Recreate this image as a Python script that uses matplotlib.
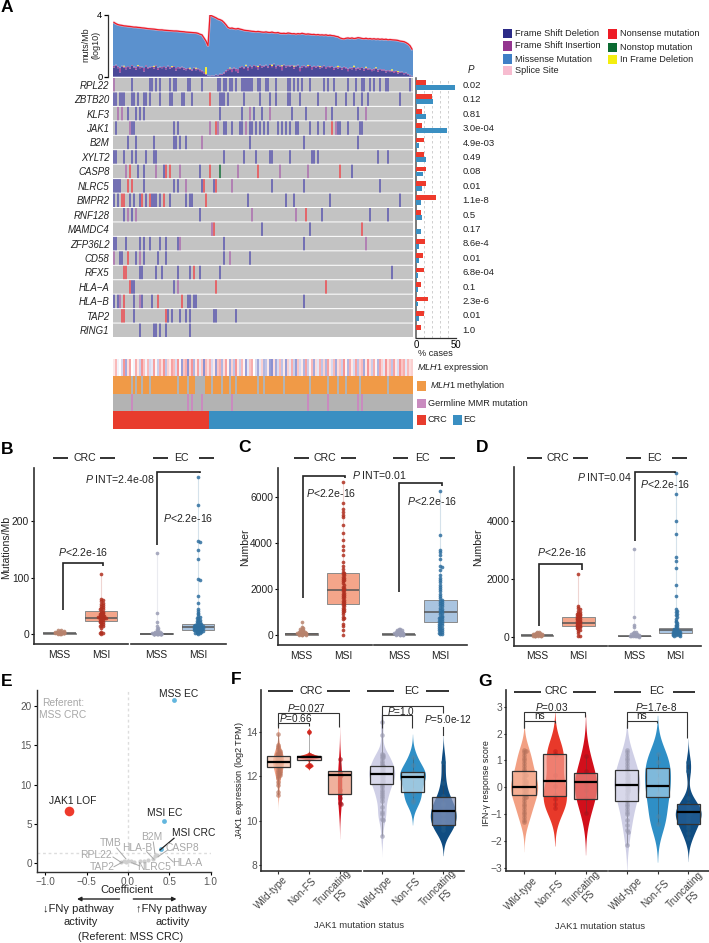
import numpy as np
import matplotlib
matplotlib.use("Agg")
import matplotlib.pyplot as plt
from matplotlib.colors import LinearSegmentedColormap

plt.rcParams['font.family'] = ['Liberation Sans', 'DejaVu Sans']
plt.rcParams['mathtext.fontset'] = 'custom'
plt.rcParams['mathtext.rm'] = 'Liberation Sans'
plt.rcParams['mathtext.it'] = 'Liberation Sans:italic'
plt.rcParams['axes.unicode_minus'] = True

W, H = 709, 943

# panel A data
genes = ['RPL22', 'ZBTB20', 'KLF3', 'JAK1', 'B2M', 'XYLT2', 'CASP8', 'NLRC5', 'BMPR2',
         'RNF128', 'MAMDC4', 'ZFP36L2', 'CD58', 'RFX5', 'HLA\u2212A', 'HLA\u2212B', 'TAP2', 'RING1']
gene_p = ['0.02', '0.12', '0.81', '3.0e-04', '4.9e-03', '0.49', '0.08', '0.01', '1.1e-8',
          '0.5', '0.17', '8.6e-4', '0.01', '6.8e-04', '0.1', '2.3e-6', '0.01', '1.0']
pct_crc = [12.5, 20, 7, 7, 10, 10, 12, 12.5, 25, 6, 0, 11, 9, 10, 6, 14.5, 9.5, 6]
pct_ec = [49, 21, 13, 39, 4, 13, 9, 7, 6, 7, 6, 4, 4, 2.5, 3, 2, 4, 0]

# sample index per gene and mutation class
fs_del = {
    'RPL22': [9, 18, 19, 21, 23, 28, 30, 31, 37, 38, 44, 52, 53, 55, 56, 58, 59, 61, 64, 65, 66, 67, 68, 69, 72, 73, 76, 77,
              81, 87, 88, 90, 92, 94, 98, 105, 107, 110, 117, 121, 124, 125, 128, 130, 133, 136, 137, 148],
    'ZBTB20': [0, 1, 3, 4, 5, 9, 10, 12, 15, 16, 18, 23, 28, 29, 34, 35, 39, 53, 54, 55, 57, 65, 73, 78, 81, 87, 88, 93,
               102, 111, 116, 120, 124, 127, 143],
    'KLF3': [7, 11, 13, 15, 53, 64, 70, 74, 89, 96, 109, 122],
    'JAK1': [1, 9, 10, 30, 32, 55, 56, 59, 63, 64, 68, 69, 71, 73, 75, 77, 82, 84, 86, 88, 91, 92, 98, 102, 105, 112, 113, 117, 123, 124],
    'B2M': [7, 11, 20, 30, 31, 33, 36, 68, 95, 122],
    'XYLT2': [0, 1, 5, 9, 11, 16, 20, 21, 55, 65, 71, 78, 79, 88, 99, 100, 102, 132, 137],
    'CASP8': [12, 15, 25, 43, 119],
    'NLRC5': [0, 1, 2, 3, 15, 30, 32, 44, 50, 79, 95, 133],
    'BMPR2': [0, 2, 8, 10, 13, 16, 19, 20, 21, 23, 28, 36, 38, 39, 67, 86, 90, 108, 143],
    'RNF128': [5, 9, 43, 104, 128, 137],
    'MAMDC4': [74, 98],
    'ZFP36L2': [0, 1, 6, 13, 15, 18, 23, 26, 32, 55, 95],
    'CD58': [3, 4, 11, 15, 22, 26, 55, 68],
    'RFX5': [13, 14, 21, 24, 32, 38, 43, 53, 139],
    'HLA\u2212A': [9, 10, 30],
    'HLA\u2212B': [0, 2, 10, 14, 19, 37, 38, 40, 41, 95],
    'TAP2': [10, 27, 29, 33, 36, 38, 50, 51, 61],
    'RING1': [13, 20, 21, 23, 26, 38],
}
fs_ins = {
    'RPL22': [0], 'KLF3': [2, 4, 68, 78, 106, 126], 'JAK1': [8, 48, 52, 66, 111], 'B2M': [44],
    'CASP8': [6, 21, 33, 62, 83, 97], 'NLRC5': [36, 59], 'RNF128': [7, 11, 69, 91], 'MAMDC4': [49],
    'ZFP36L2': [33, 126], 'CD58': [0, 13, 58], 'HLA\u2212A': [32], 'HLA\u2212B': [3, 13],
}
nonsense = {
    'ZBTB20': [48], 'JAK1': [51, 109], 'CASP8': [8, 26, 28, 48, 72, 113], 'NLRC5': [7, 9, 45, 51],
    'BMPR2': [4, 5, 14, 18, 25, 46], 'RNF128': [96], 'MAMDC4': [50, 124], 'CD58': [7],
    'RFX5': [5, 6, 40], 'HLA\u2212A': [8, 51, 106], 'HLA\u2212B': [5, 22, 34], 'TAP2': [4, 5, 26],
}
nonstop = {'CASP8': [53]}

tmb = [3.50, 3.42, 3.36, 3.33, 3.31, 3.28, 3.27, 3.25, 3.24, 3.22,
       3.20, 3.20, 3.18, 3.17, 3.15, 3.14, 3.12, 3.10, 3.09, 3.08,
       3.07, 3.05, 3.03, 3.02, 3.02, 3.00, 2.99, 2.98, 2.97, 2.96,
       2.95, 2.95, 2.94, 2.92, 2.91, 2.90, 2.88, 2.87, 2.86, 2.85,
       2.84, 2.83, 2.80, 2.74, 2.70, 2.50, 2.30, 2.00,
       3.98, 3.92, 3.86, 3.80, 3.72, 3.68, 3.62, 3.50, 3.35, 3.18,
       3.12, 3.14, 3.10, 3.08, 3.11, 3.07, 3.04, 3.00, 2.98, 2.97,
       2.95, 2.93, 2.92, 2.90, 2.92, 2.90, 2.88, 2.87, 2.89, 2.86,
       2.85, 2.88, 2.84, 2.83, 2.85, 2.80, 2.79, 2.80, 2.78, 2.82,
       2.80, 2.77, 2.78, 2.75, 2.78, 2.76, 2.80, 2.77, 2.74, 2.76,
       2.74, 2.72, 2.73, 2.70, 2.72, 2.69, 2.70, 2.68, 2.70, 2.66,
       2.68, 2.65, 2.64, 2.60, 2.58, 2.50, 2.46, 2.44, 2.48, 2.50,
       2.47, 2.50, 2.46, 2.48, 2.52, 2.50, 2.47, 2.45, 2.48, 2.44,
       2.46, 2.43, 2.45, 2.42, 2.44, 2.41, 2.43, 2.40, 2.42, 2.38,
       2.40, 2.38, 2.37, 2.36, 2.34, 2.30, 2.28, 2.26, 2.20, 2.12,
       2.00, 1.78]
tmb_del = [0.60, 0.72, 0.55, 0.28, 0.66, 0.58, 0.48, 0.62, 0.52, 0.70,
           0.58, 0.45, 0.64, 0.55, 0.60, 0.34, 0.66, 0.50, 0.58, 0.62,
           0.52, 0.68, 0.44, 0.60, 0.55, 0.62, 0.48, 0.66, 0.52, 0.58,
           0.64, 0.40, 0.55, 0.50, 0.60, 0.46, 0.42, 0.50, 0.44, 0.38,
           0.55, 0.42, 0.48, 0.36, 0.30, 0.22, 0.12, 0.05,
           0.04, 0.06, 0.05, 0.10, 0.08, 0.14, 0.12, 0.20, 0.30, 0.42,
           0.48, 0.30, 0.52, 0.36, 0.25, 0.58, 0.62, 0.50, 0.66, 0.42,
           0.68, 0.55, 0.70, 0.62, 0.48, 0.74, 0.60, 0.66, 0.72, 0.58,
           0.76, 0.62, 0.80, 0.55, 0.70, 0.66, 0.42, 0.74, 0.60, 0.68,
           0.64, 0.70, 0.52, 0.66, 0.72, 0.36, 0.60, 0.68, 0.56, 0.62,
           0.70, 0.48, 0.64, 0.58, 0.66, 0.54, 0.60, 0.68, 0.50, 0.62,
           0.56, 0.64, 0.44, 0.58, 0.52, 0.60, 0.46, 0.56, 0.50, 0.36,
           0.54, 0.48, 0.58, 0.42, 0.52, 0.46, 0.56, 0.38, 0.50, 0.44,
           0.48, 0.36, 0.42, 0.50, 0.32, 0.44, 0.38, 0.40, 0.28, 0.36,
           0.30, 0.34, 0.24, 0.30, 0.20, 0.26, 0.28, 0.16, 0.22, 0.12,
           0.08, 0.04]
tmb_ins = [0.10, 0.06, 0.12, 0.30, 0.05, 0.08, 0.14, 0.06, 0.10, 0.05,
           0.08, 0.16, 0.06, 0.10, 0.05, 0.22, 0.08, 0.10, 0.06, 0.05,
           0.12, 0.06, 0.14, 0.05, 0.08, 0.06, 0.12, 0.05, 0.10, 0.06,
           0.05, 0.16, 0.08, 0.10, 0.05, 0.12, 0.10, 0.06, 0.08, 0.10,
           0.05, 0.10, 0.06, 0.12, 0.10, 0.08, 0.05, 0.03,
           0.02, 0.03, 0.02, 0.04, 0.03, 0.05, 0.06, 0.08, 0.10, 0.08,
           0.06, 0.22, 0.08, 0.16, 0.24, 0.05, 0.06, 0.10, 0.05, 0.18,
           0.06, 0.10, 0.05, 0.08, 0.16, 0.05, 0.10, 0.06, 0.05, 0.10,
           0.05, 0.08, 0.04, 0.12, 0.06, 0.08, 0.26, 0.05, 0.10, 0.06,
           0.08, 0.05, 0.14, 0.06, 0.05, 0.24, 0.10, 0.05, 0.10, 0.08,
           0.05, 0.16, 0.06, 0.10, 0.05, 0.10, 0.08, 0.05, 0.12, 0.06,
           0.10, 0.05, 0.14, 0.06, 0.10, 0.05, 0.12, 0.08, 0.10, 0.16,
           0.06, 0.10, 0.05, 0.12, 0.08, 0.10, 0.05, 0.14, 0.08, 0.10,
           0.06, 0.12, 0.10, 0.05, 0.14, 0.06, 0.10, 0.08, 0.12, 0.06,
           0.10, 0.06, 0.12, 0.08, 0.10, 0.06, 0.05, 0.08, 0.05, 0.06,
           0.04, 0.02]
inframe_idx = [5, 12, 20, 29, 38, 41, 46, 58, 66, 72, 79, 84, 90, 97, 103, 112, 120, 126, 131, 139, 142]
inframe_h = [0.05, 0.05, 0.06, 0.05, 0.06, 0.06, 0.45, 0.05, 0.06, 0.06, 0.08, 0.06, 0.05, 0.06, 0.05, 0.08, 0.08, 0.06, 0.06, 0.08, 0.06]

mlh1_expr = [0.2, 0.6, -0.1, 0.0, -0.3, 0.9, -0.7, 0.3, 0.8, 0.0,
             -0.1, 0.7, 0.2, -0.4, 0.9, 0.5, -0.1, 0.6, -0.3, -0.2,
             0.8, 0.1, -0.4, 0.7, 0.3, 0.9, -0.5, 0.4, 0.2, 0.8,
             0.6, -0.3, 0.9, 0.1, -0.8, 0.5, 0.7, -0.9, 0.4, 0.9,
             -0.6, 0.2, 0.8, -0.2, 0.5, -0.9, 0.6, 0.3, 0.7, -0.3,
             0.2, -0.8, 0.5, 0.7, -0.6, 0.3, 0.8, 0.1, -0.7, 0.4,
             -0.5, 0.9, 0.2, -0.4, 0.6, 0.1, -0.8, -0.2, 0.5, 0.7,
             0.0, -0.3, -0.7, -0.2, 0.4, -0.6, -0.5, 0.2, -0.8, -0.9,
             0.3, -0.7, -0.3, 0.6, -0.5, 0.2, -0.8, 0.4, -0.2, 0.7,
             -0.4, -0.8, 0.5, -0.3, 0.2, -0.6, 0.8, -0.4, 0.1, 0.6,
             -0.7, 0.3, -0.2, 0.7, -0.5, 0.4, -0.6, 0.8, 0.2, -0.3,
             0.6, -0.7, 0.3, 0.5, -0.4, 0.9, 0.1, -0.6, 0.7, 0.2,
             -0.3, 0.8, -0.5, 0.4, 0.6, -0.7, 0.2, 0.9, 0.3, -0.4,
             0.7, 0.1, -0.6, 0.8, 0.4, -0.2, 0.9, 0.3, 0.6, -0.5,
             0.8, 0.2, -0.3, 0.9, 0.5, 0.7, -0.2, 0.6, 0.3, 0.4]
unmethylated = [9, 11, 14, 18, 32, 37, 41, 42, 43, 44, 45, 49, 54, 58, 61, 72, 75, 85, 98, 107, 112, 116, 123, 137]
germline = [9, 37, 39, 44, 59, 97, 107, 122, 124]
n_crc = 48

# panels B C D: group order CRC MSS, CRC MSI, EC MSS, EC MSI
b_vals = [
    [0.5, 1, 1, 1.5, 1.5, 2, 2, 2, 2.5, 2.5, 3, 3, 3, 3.5, 3.5, 4, 4, 4.5, 5, 5, 6, 6, 7, 8],
    [106, 62, 60, 58, 56, 54, 52, 50, 48, 46, 45, 44, 42, 40, 38, 37, 36, 35, 34, 33, 32, 32, 31, 30, 30, 29, 29, 28, 28, 27,
     26, 25, 24, 23, 22, 21, 20, 18, 16, 15, 14, 12, 4, 3, 2, 1],
    [144, 37, 22, 14, 12, 9, 7, 6, 5, 4, 4, 3, 3, 3, 2, 2, 2, 2, 1, 1, 1, 1, 1, 1, 1, 0.5, 0.5, 0.5, 0.5, 0.5, 0.2, 0.2],
    [278, 228, 165, 163, 149, 132, 97, 95, 67, 56, 45, 42, 38, 35, 32, 30, 29, 28, 26, 25, 24, 22, 21, 20, 19, 18, 18, 17, 16, 16,
     15, 15, 14, 14, 14, 13, 13, 13, 12, 12, 12, 11, 11, 11, 10, 10, 10, 9, 9, 8, 8, 8, 7, 7, 6, 6, 5, 5, 4, 3, 3, 2, 1],
]
b_box = [(1, 2, 3), (24, 29, 41), (0, 1, 2), (8, 13, 18)]
c_vals = [
    [560, 350, 300, 280, 250, 230, 200, 180, 160, 150, 130, 120, 110, 100, 90, 80, 70, 60, 50, 40, 40, 30, 30, 20, 20, 10, 10],
    [6680, 5750, 5500, 5350, 5250, 5150, 4800, 4450, 4150, 3900, 3700, 3500, 3200, 3000, 2900, 2750, 2700, 2650, 2600, 2550,
     2500, 2450, 2400, 2350, 2250, 2200, 2100, 2050, 2000, 1950, 1900, 1850, 1800, 1750, 1700, 1650, 1600, 1550, 1500, 1450,
     1400, 1350, 1300, 1250, 1200, 1150, 1100, 1050, 1000, 900, 800, 750, 700, 500, 400, 200, 0],
    [280, 260, 240, 220, 200, 180, 160, 150, 130, 120, 110, 100, 90, 80, 70, 60, 50, 40, 30, 30, 20, 20, 10, 10, 5],
    [6280, 4370, 3700, 3620, 3500, 3300, 3000, 2950, 2850, 2600, 2500, 2400, 2300, 2200, 2100, 2000, 1900, 1800, 1700, 1600,
     1550, 1500, 1450, 1400, 1350, 1300, 1250, 1200, 1150, 1100, 1050, 1000, 950, 900, 850, 800, 780, 750, 720, 700,
     650, 620, 600, 560, 520, 500, 460, 420, 400, 360, 320, 300, 260, 220, 200, 160, 120, 100, 60, 30],
]
c_box = [(10, 40, 70), (1350, 1980, 2700), (10, 30, 60), (560, 1000, 1540)]
d_vals = [
    [180, 160, 140, 130, 120, 110, 100, 90, 80, 80, 70, 70, 60, 60, 50, 50, 40, 40, 30, 30, 20, 20, 10],
    [2180, 1080, 1000, 950, 900, 860, 820, 800, 780, 760, 740, 720, 700, 680, 660, 640, 620, 600, 580, 560,
     540, 520, 500, 480, 460, 440, 420, 400, 380, 360, 340, 320, 300, 280, 250, 200, 120, 30, 20],
    [3060, 700, 400, 330, 180, 150, 130, 110, 100, 90, 80, 70, 60, 50, 40, 30, 30, 20, 20, 10, 10, 5],
    [5680, 4950, 4030, 3570, 2780, 2620, 2400, 1800, 1400, 950, 900, 850, 800, 750, 700, 620, 560, 500, 460, 420, 390, 360, 330,
     300, 280, 260, 240, 220, 200, 190, 180, 170, 160, 150, 140, 130, 120, 110, 100, 90, 80, 70, 60, 50, 40, 30],
]
d_box = [(30, 45, 60), (370, 480, 680), (10, 20, 35), (130, 220, 310)]

# panel E
e_blue_x = [0.56, 0.44, 0.40]
e_blue_y = [20.7, 5.4, 1.8]
e_red_x = [-0.72]
e_red_y = [6.6]
e_grey_x = [-0.08, -0.05, -0.03, 0.0, 0.03, 0.07, 0.14, 0.19, 0.24, 0.30, 0.33, 0.35]
e_grey_y = [0.2, 0.3, 0.1, 0.35, 0.25, 0.15, 0.25, 0.3, 0.45, 0.6, 0.95, 1.0]

# panels F G: group order CRC WT, Non-FS, Trunc, EC WT, Non-FS, Trunc
f_vals = [
    [13.9, 13.4, 13.3, 13.2, 13.15, 13.1, 13.05, 13, 13, 12.95, 12.9, 12.85, 12.8, 12.8, 12.75, 12.7, 12.7, 12.65, 12.65, 12.6,
     12.6, 12.55, 12.5, 12.5, 12.45, 12.4, 12.35, 12.3, 12.25, 12.2, 12.15, 12.1, 12.05, 12, 11.9, 11.75, 11.6, 11.3, 11.15],
    [14.0, 12.45, 12.5, 12.8, 12.85, 12.85, 12.9, 12.9, 12.95],
    [12.75, 12.2, 12.1, 12.05, 12, 11.4, 11.2, 11.0, 10.8, 10.75],
    [14.45, 13.85, 13.0, 12.95, 12.9, 12.85, 12.8, 12.7, 12.6, 12.5, 12.45, 12.4, 12.35, 12.3, 12.25, 12.2, 12.15, 12.1, 12.05, 12,
     11.95, 11.9, 11.85, 11.8, 11.75, 11.7, 11.6, 11.5, 11.4, 11.3, 11.2, 11.1, 11, 10.9, 10.6, 10.4, 10.3, 10.1, 10.05, 9.3],
    [12.85, 12.5, 12.2, 12.1, 12.0, 11.95, 11.9, 11.4, 11.2, 10.95, 10.85],
    [12.65, 11.7, 11.1, 10.8, 10.7, 10.5, 10.4, 10.3, 10.1, 9.9, 9.8, 9.7, 9.6],
]
f_box = [(12.42, 12.65, 12.92), (12.72, 12.85, 12.92), (11.2, 12.05, 12.22),
         (11.65, 12.08, 12.47), (11.3, 11.98, 12.2), (9.82, 10.45, 11.05)]
f_bw = [0.25, 0.07, 0.6, 0.35, 0.4, 0.45]
f_half = [0.18, 0.36, 0.07, 0.42, 0.42, 0.42]
g_vals = [
    [1.4, 1.35, 1.3, 1.2, 1.1, 1, 0.9, 0.8, 0.7, 0.6, 0.5, 0.45, 0.4, 0.3, 0.25, 0.2, 0.15, 0.1, 0.05, 0, 0, -0.05, -0.1, -0.15,
     -0.2, -0.25, -0.3, -0.35, -0.4, -0.5, -0.6, -0.7, -0.8, -0.9, -1, -1.1, -1.2, -1.3],
    [1.35, 1.25, 1.2, 0.45, 0.05, -0.3, -0.45, -0.6, -0.75],
    [1.15, 0.6, 0.2, 0.1, -0.1, -0.4, -0.95],
    [1.4, 1.3, 1.2, 1.1, 1, 0.9, 0.8, 0.7, 0.6, 0.5, 0.45, 0.4, 0.35, 0.3, 0.25, 0.2, 0.15, 0.1, 0.05, 0, -0.05, -0.1, -0.15, -0.2,
     -0.3, -0.4, -0.5, -0.6, -0.7, -0.8, -0.9, -1, -1.2, -1.4, -1.6, -1.65, -2.15],
    [1.25, 0.95, 0.6, 0.3, -0.2, -0.3, -1.05, -1.35],
    [0.95, 0.6, -0.4, -0.6, -0.7, -0.8, -0.85, -0.9, -0.95, -1, -1.1, -1.2, -1.3, -1.4, -1.5, -1.7, -1.9],
]
g_box = [(-0.3, 0, 0.6), (-0.33, 0.25, 1.23), (-0.42, 0.2, 0.55), (-0.5, 0.1, 0.66), (-0.37, 0.05, 0.72), (-1.35, -0.93, -0.63)]
g_bw = [0.42, 0.55, 0.6, 0.5, 0.55, 0.33]
g_half = [0.44, 0.38, 0.36, 0.42, 0.42, 0.42]

viol_col = ['#f2a083', '#e8392a', '#d20f1b', '#cfcfe6', '#2f8fc6', '#0f4c81']
fbox_col = ['#f7c3aa', '#f2a9a0', '#eb9378', '#dcdcec', '#c4dcea', '#8896bd']
gbox_col = ['#f7b49a', '#f29a8c', '#ea8a80', '#dcdcec', '#9fcae4', '#245f96']
pt_col = ['#b8735c', '#c8201c', '#a8141c', '#9a9ab0', '#4d88ad', '#1e5a8a']
swarm_col = ['#b8836d', '#b03020', '#9a9db5', '#2f6f9f']
bbox_col = ['#c9a08f', '#f4a58a', '#a0a3b8', '#a9c4e0']
DARK = '#303030'
GREY = '#8c8c8c'
LAB = '#a8a8a8'


def add(x0, y0, x1, y1):
    return fig.add_axes([x0 / W, 1 - y1 / H, (x1 - x0) / W, (y1 - y0) / H])


def swarm(vals, center, px_y, px_x, step=1.5, limit=5):
    placed = []
    xs = []
    for v in vals:
        y = v * px_y
        # no free slot: spread over the column width
        off = (len(placed) * 3.3) % (2 * limit) - limit
        for k in range(40):
            o = ((k + 1) // 2) * step * (1 if k % 2 else -1)
            if abs(o) > limit:
                break
            if all((o - a) ** 2 + (y - b) ** 2 >= step ** 2 for a, b in placed):
                off = o
                break
        placed.append((off, y))
        xs.append(center + off / px_x)
    return xs


def clean(ax, left=True):
    for s in ['top', 'right']:
        ax.spines[s].set_visible(False)
    ax.spines['left'].set_visible(left)
    for s in ['left', 'bottom']:
        ax.spines[s].set_linewidth(1.2)
        ax.spines[s].set_color(DARK)
    ax.patch.set_alpha(0)


def bracket(xl, yl, xr, yr, ytop, lw=1.2, c='#222222'):
    ov.plot([xl, xl, xr, xr], [yl, ytop, ytop, yr], color=c, lw=lw, solid_capstyle='butt', solid_joinstyle='miter')


def header(segs, y):
    for a, b in segs:
        ov.plot([a, b], [y, y], color='#222222', lw=1.3, solid_capstyle='butt')


def tmb_panel(x_facets, y0, y1, xlos, vals, boxes, ylim, yticks, ylabel, ylab_x):
    axl = add(x_facets[0], y0, x_facets[1], y1)
    axr = add(x_facets[2], y0, x_facets[3], y1)
    for j, ax in enumerate([axl, axr]):
        clean(ax, left=(j == 0))
        ax.set_xlim(xlos[j], xlos[j] + (x_facets[2 * j + 1] - x_facets[2 * j]) / 41.4)
        ax.set_ylim(*ylim)
        px_y = (y1 - y0) / (ylim[1] - ylim[0])
        for k in range(2):
            g = 2 * j + k
            pos = k + 1
            q1, med, q3 = boxes[g]
            ax.vlines(pos, min(vals[g]), max(vals[g]), color=swarm_col[g], lw=0.8, alpha=0.2, zorder=1)
            ax.bar(pos, q3 - q1, 0.79, bottom=q1, color=bbox_col[g], edgecolor='#8a8a8a', lw=0.7, zorder=2)
            ax.hlines(med, pos - 0.395, pos + 0.395, color='#555555', lw=1.1, zorder=3)
            ax.scatter(swarm(vals[g], pos, px_y, 41.4), vals[g], s=7, color=swarm_col[g], alpha=0.85, lw=0, zorder=4)
        ax.set_xticks([1, 2], ['MSS', 'MSI'])
        ax.tick_params(axis='x', length=0, labelsize=7.4, pad=4, labelcolor='#222222')
    axl.set_yticks(yticks)
    axl.tick_params(axis='y', length=2, width=0.8, labelsize=7.4, pad=1.5, labelcolor='#222222')
    axr.set_yticks([])
    ov.text(ylab_x, 547, ylabel, rotation=90, ha='center', va='center', fontsize=7.6, color='#222222')


def kde(vals, grid, bw):
    d = (grid[:, None] - np.array(vals)[None, :]) / bw
    return np.exp(-0.5 * d ** 2).sum(axis=1)


def violin_panel(x_facets, y0, y1, xlos, vals, boxes, bws, halves, box_col, ylim, yticks):
    axl = add(x_facets[0], y0, x_facets[1], y1)
    axr = add(x_facets[2], y0, x_facets[3], y1)
    for j, ax in enumerate([axl, axr]):
        clean(ax, left=(j == 0))
        ax.set_xlim(xlos[j], xlos[j] + (x_facets[2 * j + 1] - x_facets[2 * j]) / 30.7)
        ax.set_ylim(*ylim)
        px_y = (y1 - y0) / (ylim[1] - ylim[0])
        for k in range(3):
            g = 3 * j + k
            v = vals[g]
            q1, med, q3 = boxes[g]
            grid = np.linspace(min(v) - 2.6 * bws[g], max(v) + 2.6 * bws[g], 200)
            dens = kde(v, grid, bws[g])
            dens = dens / dens.max() * halves[g]
            ax.fill_betweenx(grid, k - dens, k + dens, color=viol_col[g], lw=0, zorder=1)
            ax.vlines(k, min(v), max(v), color='#444444', lw=0.5, alpha=0.6, zorder=2)
            ax.scatter(swarm(v, k, px_y, 30.7, step=1.5, limit=3), v, s=11, color=pt_col[g], alpha=0.65, lw=0, zorder=3)
            ax.bar(k, q3 - q1, 0.76, bottom=q1, color=box_col[g], alpha=0.72, edgecolor='none', zorder=4)
            ax.bar(k, q3 - q1, 0.76, bottom=q1, fill=False, edgecolor='#333333', lw=0.9, zorder=5)
            ax.hlines(med, k - 0.38, k + 0.38, color='black', lw=1.6, zorder=6)
        ax.set_xticks([0, 1, 2], ['', '', ''])
        ax.tick_params(axis='x', length=2.5, width=0.8, color=DARK)
    axl.set_yticks(yticks)
    axl.tick_params(axis='y', length=1.5, width=0.8, labelsize=7.4, pad=1, labelcolor='#555555')
    axr.set_yticks([])


fig = plt.figure(figsize=(W / 100, H / 100), dpi=100)
ov = fig.add_axes([0, 0, 1, 1], zorder=20)
ov.set_xlim(0, W)
ov.set_ylim(H, 0)
ov.axis('off')

col_del = '#2b2a87'
col_ins = '#93358f'
col_mis = '#3f7fc6'
col_spl = '#f7bcd0'
col_non = '#ee1c25'
col_nst = '#0b6b31'
col_inf = '#f4ee0f'

# --- A: mutation load bars ---
n = len(tmb)
idx = np.arange(n)
tmb_arr = np.array(tmb)
ins_arr = np.array(tmb_ins)
del_arr = np.array(tmb_del)
inf_arr = np.zeros(n)
inf_arr[inframe_idx] = inframe_h

ax = add(113, 14.7, 413, 76.7)
ax.bar(idx, del_arr, 0.85, color=col_del, lw=0, snap=False)
ax.bar(idx, ins_arr, 0.85, bottom=del_arr, color=col_ins, lw=0, snap=False)
ax.bar(idx, inf_arr, 0.85, bottom=del_arr + ins_arr, color=col_inf, lw=0, snap=False)
below = del_arr + ins_arr + inf_arr
ax.bar(idx, tmb_arr - below, 0.85, bottom=below, color=col_mis, lw=0, snap=False)
ax.plot(idx, tmb_arr, color=col_spl, lw=1.8, alpha=0.7, zorder=3)
ax.plot(idx, tmb_arr, color=col_non, lw=0.9, zorder=4)
ax.set_xlim(-0.5, n - 0.5)
ax.set_ylim(0, 4)
ax.set_yticks([0, 4])
ax.set_xticks([])
for s in ['top', 'right', 'bottom']:
    ax.spines[s].set_visible(False)
ax.spines['left'].set_position(('outward', 3.6))
ax.spines['left'].set_color(DARK)
ax.spines['left'].set_linewidth(0.9)
ax.tick_params(axis='y', length=3, width=0.9, labelsize=6.8, pad=1)
ax.patch.set_alpha(0)
ov.text(91, 45, 'muts/Mb\n(log10)', rotation=90, ha='center', va='center', fontsize=6.5, color='#222222')

# --- A: oncoprint ---
ax = add(113, 77.5, 413, 337.5)
for r, g in enumerate(genes):
    ax.bar(idx, 0.93, 1.0, bottom=r + 0.035, color='#c3c3c3', lw=0, snap=False)
    for table, colour in [(fs_del, '#5550ad'), (fs_ins, '#ab68ad'), (nonsense, '#f0444a'), (nonstop, col_nst)]:
        if g in table:
            ax.bar(table[g], 0.93, 0.72, bottom=r + 0.035, color=colour, lw=0, snap=False)
ax.set_xlim(-0.5, n - 0.5)
ax.set_ylim(len(genes), 0)
ax.set_xticks([])
ax.set_yticks(np.arange(len(genes)) + 0.5, genes, style='italic', fontsize=6.9, color='#222222')
ax.tick_params(axis='y', length=0, pad=2.5)
for s in ax.spines.values():
    s.set_visible(False)

# --- A: percent of cases ---
ax = add(416, 77.5, 456, 337.5)
rows = np.arange(len(genes)) + 0.5
ax.barh(rows - 0.17, pct_crc, 0.33, color='#ee3a2c', lw=0, zorder=3)
ax.barh(rows + 0.18, pct_ec, 0.34, color='#3a8fc2', lw=0, zorder=3)
for v in [10, 20, 30, 40, 50]:
    ax.axvline(v, color='#c8c8c8', lw=0.6, ls=(0, (3, 3)), zorder=1)
ax.set_xlim(0, 50)
ax.set_ylim(len(genes), 0)
ax.set_yticks([])
ax.set_xticks([0, 50])
ax.tick_params(axis='x', length=0, labelsize=6.9, pad=2)
ax.spines['top'].set_visible(False)
ax.spines['right'].set_visible(False)
ax.spines['left'].set_color('#555555')
ax.spines['left'].set_linewidth(1.1)
ax.spines['bottom'].set_color(DARK)
ax.spines['bottom'].set_linewidth(0.9)
ax.patch.set_alpha(0)
ov.text(435.5, 353, '% cases', ha='center', va='center', fontsize=6.6, color='#222222')
ov.text(471, 69, '$P$', ha='center', va='center', fontsize=7, color='#222222')
for r, p in enumerate(gene_p):
    ov.text(462.5, 85.5 + 14.4 * r, p, ha='left', va='center', fontsize=6.8, color='#222222')

# --- A: annotation tracks ---
ax = add(112.5, 358.8, 412.6, 429)
expr_cmap = LinearSegmentedColormap.from_list('expr', ['#7f86cc', '#ffffff', '#f58a8a'])
ax.bar(idx, 1.0, 1.0, bottom=0, color=expr_cmap((np.array(mlh1_expr) + 1) / 2), lw=0)
meth = np.full(n, '#f09a47', dtype=object)
meth[unmethylated] = '#b3b3b3'
ax.bar(idx, 1.0, 1.0, bottom=1, color=list(meth), lw=0)
germ = np.full(n, '#b3b3b3', dtype=object)
germ[germline] = '#c98bbf'
ax.bar(idx, 1.0, 1.0, bottom=2, color=list(germ), lw=0)
ax.bar(idx[:n_crc], 1.0, 1.0, bottom=3, color='#e83c2d', lw=0)
ax.bar(idx[n_crc:], 1.0, 1.0, bottom=3, color='#3a8fc2', lw=0)
ax.set_xlim(-0.5, n - 0.5)
ax.set_ylim(4, 0)
ax.axis('off')

ov.text(417, 367, r'$\mathit{MLH1}$ expression', ha='left', va='center', fontsize=6.6, color='#222222')
ov.text(429.5, 386, r'$\mathit{MLH1}$ methylation', ha='left', va='center', fontsize=6.6, color='#222222')
ov.text(428.5, 403.5, 'Germline MMR mutation', ha='left', va='center', fontsize=6.6, color='#222222')
ov.text(428, 420, 'CRC', ha='left', va='center', fontsize=6.6, color='#222222')
ov.text(463.7, 420, 'EC', ha='left', va='center', fontsize=6.6, color='#222222')
for x, y, c in [(417, 381.4, '#f09a47'), (417, 398.7, '#c98bbf'), (417, 415.3, '#e83c2d'), (452.5, 415.3, '#3a8fc2')]:
    ov.add_patch(plt.Rectangle((x, y), 9.4, 9.4, color=c, lw=0))

# legend of mutation classes
leg1 = [('Frame Shift Deletion', col_del, 33.5), ('Frame Shift Insertion', col_ins, 46),
        ('Missense Mutation', col_mis, 59), ('Splice Site', col_spl, 70.5)]
leg2 = [('Nonsense mutation', col_non, 34), ('Nonstop mutation', col_nst, 47.3), ('In Frame Deletion', col_inf, 59.3)]
for name, c, y in leg1:
    ov.add_patch(plt.Rectangle((503, y - 4.7), 9.4, 9.4, color=c, lw=0))
    ov.text(514.7, y, name, ha='left', va='center', fontsize=6.6, color='#222222')
for name, c, y in leg2:
    ov.add_patch(plt.Rectangle((607.8, y - 4.7), 9.4, 9.4, color=c, lw=0))
    ov.text(619.7, y, name, ha='left', va='center', fontsize=6.6, color='#222222')

# --- B C D ---
tmb_panel((34, 128, 131, 226), 468, 644, (0.38, 0.38), b_vals, b_box, (-17, 293), [0, 100, 200], 'Mutations/Mb', 6.5)
tmb_panel((278, 372, 374, 467), 467.7, 645, (0.43, 0.40), c_vals, c_box, (-435, 7300), [0, 2000, 4000, 6000], 'Number', 245)
tmb_panel((514.3, 607, 609, 701), 466.7, 645.7, (0.45, 0.39), d_vals, d_box, (-312, 5900), [0, 2000, 4000], 'Number', 478)

header([(53.3, 68.3), (100, 115), (152.7, 167.7), (199, 214)], 458.3)
header([(294.3, 309.3), (341, 356), (393.3, 408.3), (440, 455)], 458.3)
header([(526.7, 541.7), (573.3, 588.3), (625.7, 640.7), (672, 687)], 458.3)
for x, s in [(84.7, 'CRC'), (181.7, 'EC'), (325.3, 'CRC'), (422.3, 'EC'), (558, 'CRC'), (654.7, 'EC')]:
    ov.text(x, 458.3, s, ha='center', va='center', fontsize=7.6, color='#222222')

bracket(62.7, 610, 103.3, 566, 562.7)
bracket(156.7, 545, 200, 473, 471.7)
bracket(303, 598.3, 345, 477.7, 476)
bracket(399, 591.7, 441.7, 485.7, 482.7)
bracket(539.3, 626, 581.7, 570, 564)
bracket(635.3, 540.7, 675, 473.3, 471.7)
for x, y, s in [(83.3, 551.7, '$P$<2.2e-16'), (120, 479, '$P$ INT=2.4e-08'), (188, 518.3, '$P$<2.2e-16'),
                (331, 492.7, '$P$<2.2e-16'), (379, 475, '$P$ INT=0.01'), (431.7, 501.3, '$P$<2.2e-16'),
                (562, 552, '$P$<2.2e-16'), (604.7, 477.3, '$P$ INT=0.04'), (665, 484.3, '$P$<2.2e-16')]:
    ov.text(x, y, s, ha='center', va='center', fontsize=7.6, color='#222222')

# --- E ---
ax = add(36.7, 690, 210.7, 871.7)
clean(ax)
ax.spines['left'].set_linewidth(1)
ax.spines['bottom'].set_linewidth(1)
ax.axvline(0, color='#dddddd', lw=1, ls=(0, (2, 2)), zorder=1)
ax.axhline(1.3, color='#dddddd', lw=1, ls=(0, (2, 2)), zorder=1)
ax.scatter(e_grey_x, e_grey_y, s=9, color='#cfcfcf', lw=0, zorder=2)
ax.scatter(e_blue_x, e_blue_y, s=12, color='#62b6de', lw=0, zorder=3)
ax.scatter(e_red_x, e_red_y, s=48, color='#ee3a2c', lw=0, zorder=3)
ax.set_xlim(-1.105, 1.0)
ax.set_ylim(-1.07, 22)
ax.set_xticks([-1.0, -0.5, 0.0, 0.5, 1.0])
ax.set_yticks([0, 5, 10, 15, 20])
ax.tick_params(length=2, width=0.8, labelsize=7.2, pad=1.5, labelcolor='#555555')
for x, y, s in [(179, 694, 'MSS EC'), (165, 812.7, 'MSI EC'), (193.7, 832.7, 'MSI CRC'), (73, 801.3, 'JAK1 LOF')]:
    ov.text(x, y, s, ha='center', va='center', fontsize=7.4, color='#222222')
for x, y, s in [(110.7, 842.7, 'TMB'), (152, 837.3, 'B2M'), (137.7, 847.7, 'HLA-B'), (182.7, 848.3, 'CASP8'),
                (96.3, 855.3, 'RPL22'), (187.7, 863, 'HLA-A'), (102.3, 867.3, 'TAP2'), (154.3, 867.3, 'NLRC5')]:
    ov.text(x, y, s, ha='center', va='center', fontsize=7.4, color=LAB)
ov.text(63, 709, 'Referent:\nMSS CRC', ha='center', va='center', fontsize=7.4, color=LAB, linespacing=1.25)
ov.plot([174, 160], [838.3, 850], color='#222222', lw=0.9)
for seg in [((116.7, 126), (848, 859)), ((113, 121.7), (857, 862.7)), ((114, 122.7), (866.7, 862)), ((140, 131.7), (866, 862.7)),
            ((146.7, 154), (851.7, 859.3)), ((153.3, 155), (842, 854)), ((167.7, 158), (850, 856.7)), ((173.3, 167.7), (862, 856.7))]:
    ov.plot(seg[0], seg[1], color=LAB, lw=0.7)
ov.text(127, 890, 'Coefficient', ha='center', va='center', fontsize=8, color='#222222')
ov.annotate('', xy=(77, 899), xytext=(119.5, 899), arrowprops=dict(arrowstyle='-|>', color='#222222', lw=1, mutation_scale=6, shrinkA=0, shrinkB=0))
ov.annotate('', xy=(176.5, 899), xytext=(133.3, 899), arrowprops=dict(arrowstyle='-|>', color='#222222', lw=1, mutation_scale=6, shrinkA=0, shrinkB=0))
ov.text(78, 908.7, '\u2193FN\u03b3 pathway', ha='center', va='center', fontsize=8, color='#222222')
ov.text(80.7, 921.7, 'activity', ha='center', va='center', fontsize=8, color='#222222')
ov.text(171, 908.7, '\u2191FN\u03b3 pathway', ha='center', va='center', fontsize=8, color='#222222')
ov.text(173, 921.7, 'activity', ha='center', va='center', fontsize=8, color='#222222')
ov.text(131, 937, '(Referent: MSS CRC)', ha='center', va='center', fontsize=7.8, color='#222222')

# --- F ---
violin_panel((261, 361, 364, 464), 690, 871.3, (-0.56, -0.58), f_vals, f_box, f_bw, f_half, fbox_col, (7.73, 15.87), [8, 10, 12, 14])
# --- G ---
violin_panel((505.7, 606.7, 609, 708.7), 690, 871.3, (-0.60, -0.58), g_vals, g_box, g_bw, g_half, gbox_col, (-3.12, 3.62), [-3, -2, -1, 0, 1, 2, 3])

header([(267.7, 293.3), (326.7, 350), (366.7, 394.3), (426, 449)], 691)
header([(514.3, 541), (573.3, 596), (613.7, 640.7), (672.7, 695)], 691.5)
for x, s in [(310.7, 'CRC'), (412, 'EC'), (555.7, 'CRC'), (656.7, 'EC')]:
    ov.text(x, 691, s, ha='center', va='center', fontsize=7.8, color='#222222')

bracket(278.3, 728, 339, 726.7, 713.3, lw=0.8, c='#333333')
bracket(278.3, 726, 309, 725.5, 723.3, lw=0.8, c='#333333')
bracket(381.7, 728, 442.7, 713, 705.7, lw=0.8, c='#333333')
ov.plot([442.7, 442.7], [726.7, 735], color='#333333', lw=0.8)
bracket(381.7, 722, 412.3, 728.3, 715, lw=0.8, c='#333333')
bracket(524.3, 728, 585, 716.7, 711.7, lw=0.8, c='#333333')
bracket(524.3, 728, 555.3, 723, 720.7, lw=0.8, c='#333333')
bracket(626.7, 728, 687.3, 738.3, 711.7, lw=0.8, c='#333333')
bracket(626.7, 728, 657.3, 723, 720.7, lw=0.8, c='#333333')
for x, y, s in [(306, 707.7, '$P$=0.027'), (295.7, 718.3, '$P$=0.66'), (400.7, 710.7, '$P$=1.0'), (447.7, 719.3, '$P$=5.0e-12'),
                (552, 706.7, '$P$=0.03'), (539.7, 716, 'ns'), (656.3, 706.7, '$P$=1.7e-8'), (641.3, 716, 'ns')]:
    ov.text(x, y, s, ha='center', va='center', fontsize=7.2, color='#222222')

xlabels = ['Wild-type', 'Non-FS', 'Truncating\nFS']
for x, y, s in zip([271, 302, 336.7, 376, 406.7, 441.7], [892.7, 891.7, 891.7, 892.7, 891.7, 891.7], xlabels * 2):
    ov.text(x, y, s, rotation=45, ha='center', va='center', multialignment='center', fontsize=7.2, color='#444444', linespacing=1.05)
for x, y, s in zip([520.7, 549.3, 585, 626, 655, 688.5], [894, 893.3, 893, 894, 894, 894], xlabels * 2):
    ov.text(x, y, s, rotation=45, ha='center', va='center', multialignment='center', fontsize=7.2, color='#444444', linespacing=1.05)
ov.text(359, 925.7, 'JAK1 mutation status', ha='center', va='center', fontsize=6.8, color='#333333')
ov.text(600, 926.7, 'JAK1 mutation status', ha='center', va='center', fontsize=6.8, color='#333333')
ov.text(240, 780, r'$\mathit{JAK1}$ expression (log2 TPM)', rotation=90, ha='center', va='center', fontsize=6.6, color='#222222')
ov.text(486.7, 783, 'IFN-\u03b3 response score', rotation=90, ha='center', va='center', fontsize=6.4, color='#222222')

# panel letters
for x, y, s in [(1, 7.5, 'A'), (1, 449, 'B'), (238, 448, 'C'), (476, 448, 'D'), (1, 681.7, 'E'), (231, 680, 'F'), (478, 682, 'G')]:
    ov.text(x, y, s, ha='left', va='center', fontsize=12.5, fontweight='bold', color='black')

fig.savefig('out.png', dpi=100)
